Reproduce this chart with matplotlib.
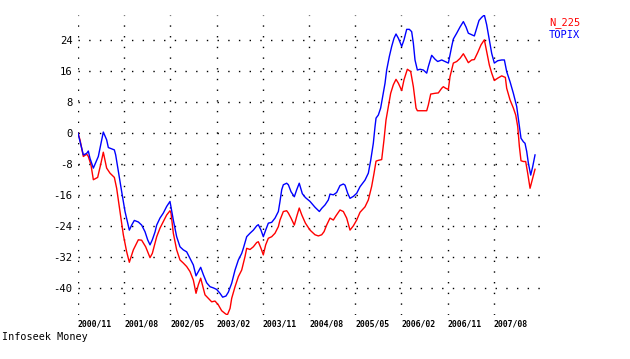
import matplotlib
matplotlib.use("Agg")
import matplotlib.pyplot as plt

# x: months elapsed since 2000/11, y: % change
topix_month = [0.0, 1.04, 1.69, 2.01, 2.34, 2.99, 3.96, 4.48, 4.93, 5.58, 5.91, 7.08, 7.34, 7.86, 8.51, 9.16,
               9.61, 10.0, 10.46, 10.97, 11.75, 12.40, 13.05, 13.57, 14.03, 14.48, 15.0, 15.33, 15.97, 16.62,
               17.27, 17.92, 18.57, 19.22, 19.87, 20.52, 21.17, 21.82, 22.47, 22.99, 23.9, 24.42, 25.07, 25.72,
               26.36, 27.01, 27.66, 28.18, 28.83, 29.29, 29.94, 30.59, 31.24, 31.89, 32.21, 32.86, 33.51, 34.16,
               34.81, 35.13, 35.65, 36.1, 36.56, 37.08, 37.73, 38.38, 39.03, 39.35, 39.68, 40.0, 40.65, 40.98,
               41.5, 42.14, 42.6, 43.1, 43.7, 44.3, 45.2, 46.17, 47.02, 47.47, 48.12, 48.77, 49.09, 49.74, 50.39,
               51.04, 51.69, 52.02, 52.54, 52.99, 53.64, 54.29, 54.94, 55.91, 56.56, 57.02, 57.53, 57.86, 58.06,
               58.51, 58.96, 59.35, 59.81, 60.13, 60.65, 61.11, 61.56, 61.95, 62.41, 63.06, 63.51, 64.03, 64.55,
               65.0, 65.33, 65.65, 66.11, 66.63, 67.28, 67.93, 68.25, 68.9, 69.55, 70.07, 70.85, 71.5, 72.15,
               72.8, 73.12, 73.77, 74.42, 75.07, 75.59, 76.04, 76.69, 77.21, 77.67, 78.12, 78.64, 79.16, 79.61,
               80.13, 80.59, 81.1, 81.76, 82.54, 83.06, 83.51, 84.16, 84.81, 85.46, 85.91, 86.3, 86.76, 87.08,
               87.41, 87.73, 88.19, 88.58, 89.03]
topix_pct = [0, -5.6, -5.2, -4.6, -6.5, -9.0, -6.0, -2.6, 0.3, -1.7, -3.7, -4.3, -5.6, -9.9, -15.1, -20.2,
             -22.8, -25.0, -23.7, -22.5, -22.9, -23.7, -25.4, -27.5, -28.8, -27.5, -25.5, -23.7, -21.9, -20.6,
             -18.9, -17.6, -22.4, -26.7, -29.3, -30.1, -30.6, -32.3, -34.0, -36.8, -34.6, -36.5, -38.6, -39.6,
             -39.9, -40.3, -41.3, -42.3, -42.0, -41.0, -38.7, -35.3, -32.7, -31.0, -29.7, -26.7, -25.8, -25.0,
             -23.9, -23.6, -25.0, -26.7, -25.0, -23.2, -23.0, -21.9, -20.2, -17.6, -14.6, -13.3, -12.9, -13.3,
             -15.1, -16.4, -14.6, -12.9, -15.6, -16.6, -17.6, -19.1, -20.2, -19.4, -18.5, -17.2, -15.7, -15.9, -15.3,
             -13.5, -13.1, -13.4, -15.5, -16.8, -16.3, -15.5, -13.8, -12.1, -10.3, -7.0, -2.6, 1.7, 3.9,
             4.7, 6.5, 9.5, 12.9, 16.3, 19.8, 22.4, 24.5, 25.6, 24.5, 22.4, 24.1, 26.8, 26.8,
             26.2, 23.2, 18.9, 16.3, 16.5, 16.3, 15.5, 17.2, 20.1, 19.1, 18.5, 18.9, 18.5, 18.1,
             22.4, 24.3, 25.8, 27.4, 28.8, 27.4, 25.8, 25.4, 25.1, 27.1, 29.1, 29.9, 30.5, 28.0,
             24.1, 20.6, 18.1, 18.7, 18.9, 18.9, 15.9, 13.3, 10.3, 6.9, 2.6, -1.3, -2.2, -2.6,
             -4.7, -7.7, -10.8, -8.6, -5.6]

n225_month = [0.0, 0.39, 1.04, 1.69, 2.01, 2.53, 2.99, 3.83, 4.48, 4.93, 5.58, 6.23, 7.08, 7.53, 8.18, 8.83,
              9.48, 10.0, 10.78, 11.75, 12.40, 13.18, 14.03, 14.48, 15.0, 15.33, 15.97, 16.62, 17.27, 17.92,
              18.12, 18.57, 19.22, 19.87, 20.52, 21.17, 21.82, 22.47, 22.99, 23.44, 23.9, 24.42, 24.74, 25.39,
              26.04, 26.69, 27.34, 27.99, 28.64, 29.09, 29.62, 29.94, 30.59, 31.24, 31.89, 32.54, 32.86, 33.51,
              34.16, 34.81, 35.13, 35.65, 36.1, 36.56, 37.08, 37.73, 38.38, 39.03, 39.35, 40.0, 40.65, 40.98,
              41.5, 42.14, 42.6, 43.1, 43.6, 44.3, 45.2, 46.17, 46.82, 47.47, 47.93, 48.44, 49.09, 49.74, 50.26,
              51.04, 51.69, 52.34, 52.99, 53.64, 54.29, 54.94, 55.91, 56.56, 57.21, 57.66, 58.06, 58.51, 59.16,
              59.61, 60.0, 60.46, 60.91, 61.43, 61.95, 62.41, 63.06, 63.51, 64.16, 64.81, 65.33, 65.85, 66.11,
              66.95, 67.93, 68.25, 68.71, 69.55, 70.2, 70.85, 71.17, 71.62, 72.15, 72.47, 73.12, 73.77, 74.42,
              75.07, 75.59, 76.04, 76.69, 77.21, 77.86, 78.51, 79.16, 79.61, 80.13, 80.59, 81.1, 81.76, 82.54,
              83.25, 83.51, 84.16, 84.81, 85.27, 85.66, 85.98, 86.3, 86.76, 87.21, 87.6, 88.06, 88.58, 89.03]
n225_pct = [0, -1.7, -6.0, -5.4, -6.0, -8.2, -12.0, -11.4, -7.7, -4.9, -9.0, -10.3, -11.4, -14.2, -20.2, -26.2,
            -30.6, -33.3, -30.1, -27.5, -27.6, -29.3, -32.1, -31.0, -28.4, -26.7, -24.5, -22.8, -21.1, -20.0,
            -20.6, -25.8, -30.1, -32.7, -33.5, -34.4, -35.7, -37.9, -41.3, -39.1, -37.4, -40.0, -41.7, -42.6,
            -43.5, -43.3, -44.3, -45.8, -46.5, -46.9, -45.2, -42.6, -39.6, -37.0, -35.3, -31.8, -29.7, -30.0,
            -29.3, -28.2, -28.0, -29.7, -31.4, -28.8, -27.1, -26.7, -25.8, -24.1, -22.4, -20.2, -20.0, -20.6,
            -21.9, -23.7, -21.5, -19.3, -21.1, -23.2, -25.0, -26.2, -26.5, -26.2, -25.4, -23.7, -21.9, -22.4, -21.3,
            -19.8, -20.2, -21.9, -25.0, -23.9, -22.4, -20.4, -19.0, -17.2, -13.7, -10.4, -7.2, -7.0, -6.8,
            -1.7, 3.4, 6.9, 10.3, 12.5, 13.9, 12.9, 11.0, 13.8, 16.5, 15.9, 12.0, 6.5, 5.8,
            5.8, 5.8, 7.3, 10.1, 10.3, 10.4, 11.6, 12.0, 11.6, 11.3, 14.6, 18.1, 18.5, 19.3,
            20.5, 19.3, 18.2, 18.9, 19.0, 20.8, 22.8, 24.1, 21.1, 17.6, 15.5, 13.6, 14.2, 14.8,
            14.4, 11.6, 8.6, 6.5, 4.7, 1.7, -3.4, -7.1, -7.3, -7.3, -10.3, -14.2, -11.6, -9.3]

x_tick_months = [0, 9, 18, 27, 36, 45, 54, 63, 72, 81]
x_tick_labels = ["2000/11", "2001/08", "2002/05", "2003/02", "2003/11",
                 "2004/08", "2005/05", "2006/02", "2006/11", "2007/08"]
y_ticks = [-40, -32, -24, -16, -8, 0, 8, 16, 24]
series_names = ["N_225", "TOPIX"]

W, H = 630, 359
fig = plt.figure(figsize=(W / 100, H / 100), dpi=100)
fig.patch.set_facecolor("white")
ax = fig.add_axes([78 / W, 1 - 315 / H, (540 - 78) / W, (315 - 15) / H])

ax.plot(n225_month, n225_pct, color="#ff0000", lw=1.0, zorder=3)
ax.plot(topix_month, topix_pct, color="#0000ff", lw=1.0, zorder=4)

ax.set_xlim(0, 90)
ax.set_ylim(-46.9, 30.5)
for s in ax.spines.values():
    s.set_visible(False)

ax.set_xticks(x_tick_months)
ax.set_xticklabels(x_tick_labels, fontfamily="DejaVu Sans Mono", fontweight="bold", fontsize=5.9, ha="left")
ax.set_yticks(y_ticks)
ax.set_yticklabels([str(v) for v in y_ticks], fontfamily="DejaVu Sans Mono", fontsize=7.6)
ax.tick_params(axis="both", length=0)
ax.tick_params(axis="x", pad=3)
ax.tick_params(axis="y", pad=4)
ax.grid(True, color="black", linestyle=(0, (1, 6.7)), linewidth=1.0)

fig.text(549 / W, 1 - 25.5 / H, series_names[0], color="#ff0000", fontfamily="DejaVu Sans Mono",
         fontsize=7.5, ha="left", va="baseline")
fig.text(549 / W, 1 - 37.5 / H, series_names[1], color="#0000ff", fontfamily="DejaVu Sans Mono",
         fontsize=7.5, ha="left", va="baseline")
fig.text(2 / W, 1 - 337 / H, "Infoseek Money", color="black", fontfamily="DejaVu Sans Mono",
         fontsize=7.3, ha="left", va="center")

fig.savefig("out.png", dpi=100)
